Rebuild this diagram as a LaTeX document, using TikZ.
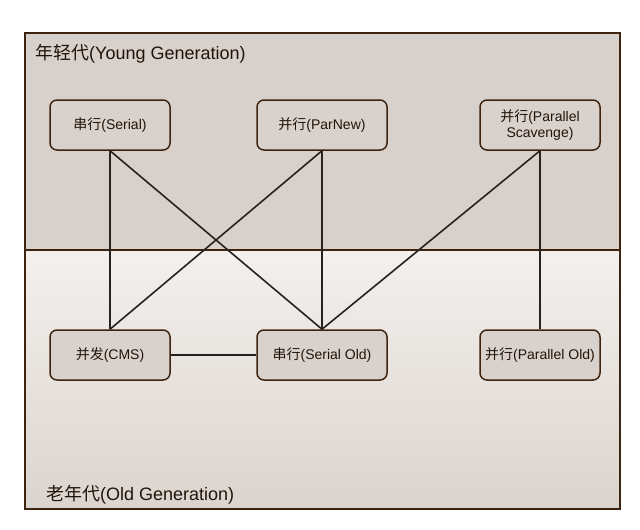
\documentclass[tikz,border=0pt]{standalone}
\usepackage{fontspec}
\setmainfont{Liberation Sans}
\newfontfamily\cjk{Noto Sans CJK SC}
\definecolor{frame}{HTML}{3D2410}
\definecolor{young}{HTML}{D8D1CB}
\definecolor{oldtop}{HTML}{F3F0ED}
\definecolor{oldbot}{HTML}{DBD4CE}
\definecolor{nodefill}{HTML}{D9D2CC}
\definecolor{edge}{HTML}{262221}
\definecolor{txt}{HTML}{22140A}
\begin{document}
\begin{tikzpicture}[x=1pt,y=-1pt,
  gc/.style={draw=frame,line width=1.5pt,fill=nodefill,rounded corners=7pt,
    minimum width=120pt,minimum height=50pt,align=center,inner sep=2pt,
    font=\fontsize{14}{15.5}\selectfont,text=txt},
  conn/.style={draw=edge,line width=1.6pt},
  glab/.style={anchor=west,font=\fontsize{18}{21}\selectfont,text=txt,inner sep=0pt}]
\useasboundingbox (0,0) rectangle (640,530);
\fill[white] (0,0) rectangle (640,530);
\fill[young] (25,33) rectangle (620,250);
\shade[top color=oldtop,bottom color=oldbot] (25,250) rectangle (620,509);
\draw[frame,line width=2pt] (25,33) rectangle (620,509);
\draw[frame,line width=1.5pt] (25,250) -- (620,250);
\node[glab] (ylab) at (35,53.5) {{\cjk 年轻代}(Young Generation)};
\node[glab] (olab) at (46,494.5) {{\cjk 老年代}(Old Generation)};
\node[gc] (serial) at (110,125) {{\cjk 串行}(Serial)};
\node[gc,minimum width=130pt] (parnew) at (322,125) {{\cjk 并行}(ParNew)};
\node[gc] (ps) at (540,125) {{\cjk 并行}(Parallel\\Scavenge)};
\node[gc] (cms) at (110,355) {{\cjk 并发}(CMS)};
\node[gc,minimum width=130pt] (so) at (322,355) {{\cjk 串行}(Serial Old)};
\node[gc] (po) at (540,355) {{\cjk 并行}(Parallel Old)};
\draw[conn] (serial.south) -- (cms.north);
\draw[conn] (serial.south) -- (so.north);
\draw[conn] (parnew.south) -- (cms.north);
\draw[conn] (parnew.south) -- (so.north);
\draw[conn] (ps.south) -- (so.north);
\draw[conn] (ps.south) -- (po.north);
\draw[conn] (cms.east) -- (so.west);
\end{tikzpicture}
\end{document}
